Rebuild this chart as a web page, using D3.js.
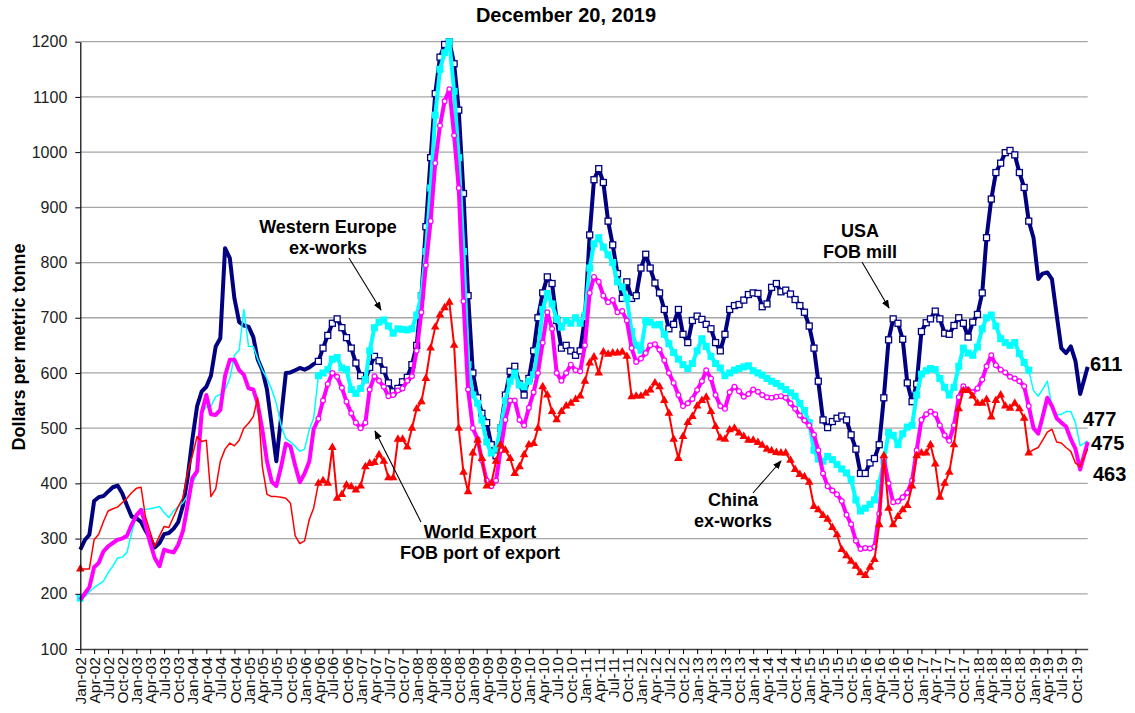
<!DOCTYPE html>
<html>
<head>
<meta charset="utf-8">
<script src="https://cdn.jsdelivr.net/npm/d3@7"></script>
<style>
  body { margin: 0; background: #fff; }
  text { font-family: Arial, "Liberation Sans", sans-serif; }
</style>
</head>
<body>
<div id="chart"></div>
<script>
// monthly prices, Jan-02 .. Dec-19 (last point is Dec 20, 2019)
var usa = [
  280, 298, 307, 368, 375, 377, 385, 393, 396, 382, 360, 340,
  337, 330, 315, 300, 284, 292, 308, 310, 318, 330, 360, 410,
  480, 540, 566, 575, 595, 648, 663, 826, 808, 735, 692, 686,
  684, 665, 625, 605, 570, 505, 440, 520, 600, 601, 605, 609,
  606, 610, 616, 621, 645, 668, 690, 698, 682, 664, 645, 618,
  595, 588, 610, 630, 622, 605, 582, 566, 572, 584, 592, 615,
  650, 740, 865, 990, 1106, 1172, 1195, 1200, 1160, 1076, 925, 740,
  600, 555, 527, 510, 470, 450, 500, 560, 603, 612, 580, 560,
  590, 640, 700, 745, 774, 762, 695, 645, 650, 640, 632, 640,
  700, 850, 950, 970, 945, 875, 832, 780, 735, 765, 735, 740,
  790, 815, 790, 763, 745, 715, 680, 688, 715, 670, 655, 695,
  703, 697, 688, 680, 655, 640, 670, 715, 722, 724, 732, 742,
  745, 744, 720, 725, 755, 762, 747, 750, 743, 733, 722, 710,
  685, 645, 585, 515, 501, 512, 518, 522, 515, 488, 462, 418,
  418, 437, 445, 470, 555, 660, 698, 690, 661, 582, 548, 580,
  675, 691, 698, 712, 698, 672, 670, 686, 700, 690, 665, 692,
  706, 745, 845, 915, 963, 980, 999, 1003, 995, 963, 936, 875,
  845, 770, 780, 782, 770, 705, 645, 636, 648, 622, 562, 611
];

var westEurope = [
  192, 195, 204, 211, 217, 223, 238, 250, 265, 266, 275, 310,
  340, 352, 353, 354, 356, 358, 347, 338, 350, 358, 365, 378,
  400, 418, 527, 539, 540, 557, 561, 570, 590, 632, 642, 715,
  648, 648, 626, 605, 590, 570, 545, 505, 481, 475, 467, 458,
  462, 498, 518, 595, 600, 606, 625, 628, 609, 606, 570, 563,
  572, 588, 640, 682, 692, 696, 685, 672, 680, 679, 678, 680,
  705, 740, 820, 935, 1067, 1150, 1180, 1200, 1110, 990, 820, 615,
  560, 545, 515, 475, 455, 462, 500, 550, 585, 600, 578, 575,
  585, 597, 640, 715, 744, 725, 698, 683, 695, 690, 700, 690,
  705, 790, 834, 845, 828, 814, 800, 765, 756, 735, 675, 650,
  641, 695, 692, 687, 688, 670, 653, 637, 625, 615, 608, 617,
  640, 662, 648, 630, 617, 609, 595, 600, 605, 608, 611, 613,
  604, 600, 596, 590, 585, 581, 576, 570, 564, 558, 545, 532,
  510, 460, 444, 440, 449, 443, 434, 426, 419, 407, 370, 350,
  355, 362, 370, 400, 440, 492, 487, 470, 490, 502, 505, 560,
  598, 604, 608, 606, 590, 574, 560, 574, 612, 645, 636, 632,
  647, 680, 700, 705, 685, 662, 655, 650, 655, 635, 619, 605,
  568, 558, 570, 585, 540, 524, 525, 530, 530, 510, 468, 477
];

var worldExport = [
  189, 201, 212, 248, 256, 277, 286, 292, 298, 300, 305, 325,
  342, 352, 325, 292, 265, 250, 280, 277, 275, 289, 314, 360,
  410, 422, 527, 560, 525, 524, 533, 595, 624, 624, 605, 597,
  572, 570, 545, 497, 440, 403, 395, 430, 472, 467, 432, 402,
  418, 440, 498, 517, 550, 580, 600, 593, 573, 548, 527, 510,
  500, 510, 570, 594, 586, 575, 558, 560, 568, 572, 586, 594,
  640, 710, 795, 875, 980, 1048, 1092, 1114, 1030, 935, 730, 570,
  500, 480, 442, 405, 395, 405, 460, 515, 550, 550, 515, 505,
  537, 565, 600, 655, 710, 680, 600, 586, 600, 615, 605, 603,
  650, 745, 774, 765, 740, 728, 732, 710, 712, 695, 645, 620,
  626, 636, 650, 652, 642, 623, 600, 582, 560, 540, 545, 553,
  569, 585, 605, 590, 560, 540, 535, 565, 575, 567, 557, 562,
  570, 566, 560, 556, 555, 557, 558, 555, 545, 535, 523, 514,
  505, 488, 460, 418, 395, 387, 380, 368, 343, 326, 296, 281,
  283, 282, 285, 345, 445, 400, 366, 367, 375, 383, 405, 460,
  515, 525, 530, 525, 505, 487, 477, 505, 556, 576, 569, 565,
  572, 588, 612, 632, 614, 606, 601, 593, 590, 585, 576, 540,
  500, 490, 520, 555, 540, 518, 510, 503, 480, 463, 425, 475
];

var china = [
  245, 245, 245, 298, 308, 331, 350, 354, 357, 365, 373, 383,
  391, 393, 340, 312, 286, 305, 322, 320, 340, 358, 374, 420,
  450, 485, 476, 478, 376, 390, 440, 462, 473, 468, 478, 500,
  509, 521, 555, 430, 380, 376, 376, 375, 373, 364, 305, 291,
  296, 335, 355, 400, 405, 400, 465, 373, 380, 397, 394, 388,
  395, 430, 436, 438, 452, 440, 410, 410, 480, 480, 466, 500,
  535, 548, 590, 645, 683, 705, 718, 728, 650, 500, 420, 385,
  455, 478, 445, 395, 400, 440, 470, 460, 445, 418, 430, 452,
  470, 472, 500, 575, 560, 530, 515, 530, 540, 545, 552, 558,
  585, 618, 629, 600, 638, 634, 636, 636, 638, 630, 557, 558,
  558, 563, 569, 582, 575, 550, 527, 480, 445, 485, 510, 521,
  540, 550, 556, 530, 503, 482, 480, 497, 500, 491, 485, 478,
  478, 474, 469, 462, 459, 456, 455, 455, 442, 425, 416, 412,
  402, 358, 352, 342, 335, 320, 307, 280, 269, 259, 250, 238,
  233, 248, 262, 325, 450, 355, 325, 340, 352, 360, 395, 450,
  455, 455, 470, 435, 375, 400, 420, 470, 535, 568, 568, 558,
  545, 545, 552, 520, 550, 560, 540, 536, 545, 535, 518, 455,
  461, 465, 478, 493, 498, 475, 473, 465, 458, 437, 430, 463
];

var endLabels = [
  {text: "611", x: 1090, y: 371},
  {text: "477", x: 1083, y: 426},
  {text: "475", x: 1091, y: 450},
  {text: "463", x: 1093, y: 481}
];

var notes = [
  {lines: ["Western Europe", "ex-works"], x: 328, y: 233, from: [349, 258], to: [381, 310]},
  {lines: ["USA", "FOB mill"], x: 860, y: 237, from: [862, 262], to: [889, 308]},
  {lines: ["World Export", "FOB port of export"], x: 480, y: 538, from: [421, 522], to: [375, 431]},
  {lines: ["China", "ex-works"], x: 733, y: 506, from: [753, 493], to: [781, 461]}
];

// marker period (index of Apr-06 .. Dec-18)
var markFrom = 51, markTo = 203;

var W = 1135, H = 713;
var plot = {left: 80.3, right: 1087.7, top: 41.7, bottom: 649};

var startDate = new Date(2002, 0, 1),
    endDate = new Date(2019, 11, 20);

var x = d3.scaleTime().domain([startDate, endDate]).range([plot.left, plot.right]);
var y = d3.scaleLinear().domain([100, 1200]).range([plot.bottom, plot.top]);

function dateOf(i) {
  return i == usa.length - 1 ? endDate : new Date(2002, i, 1);
}

var svg = d3.select("#chart").append("svg")
  .attr("width", W)
  .attr("height", H);

create_grid();
draw_series(usa, "#000080", 4, 4, "square_open", 4, true);
draw_series(westEurope, "#00ffff", 1.5, 4, "square", 1.5, false);
draw_series(worldExport, "#ff00ff", 4, 4, "circle", 4, true);
draw_series(china, "#ff0000", 1.5, 2, "triangle", 1.5, false);
create_axes();
create_labels();

function create_grid() {
  svg.append("g")
    .selectAll("line")
    .data(d3.range(200, 1201, 100))
    .join("line")
      .attr("x1", plot.left)
      .attr("x2", plot.right)
      .attr("y1", d => y(d))
      .attr("y2", d => y(d))
      .attr("stroke", "#a6a6a6")
      .attr("stroke-width", 1.3);
}

function draw_series(values, color, earlyWidth, mainWidth, mark, lateWidth, firstHidden) {
  var line = d3.line()
    .x(i => x(dateOf(i)))
    .y(i => y(values[i]));

  var g = svg.append("g").attr("fill", "none").attr("stroke-linejoin", "round");

  g.append("path")
    .attr("d", line(d3.range(0, markFrom + 1)))
    .attr("stroke", color)
    .attr("stroke-width", earlyWidth);
  g.append("path")
    .attr("d", line(d3.range(markTo, values.length)))
    .attr("stroke", color)
    .attr("stroke-width", lateWidth);
  g.append("path")
    .attr("d", line(d3.range(markFrom, markTo + 1)))
    .attr("stroke", color)
    .attr("stroke-width", mainWidth);

  var idx = d3.range(markFrom, markTo + 1);
  if (!firstHidden) idx.unshift(0);

  var m = svg.append("g");
  if (mark == "square_open") {
    m.selectAll("rect").data(idx).join("rect")
      .attr("x", i => x(dateOf(i)) - 3)
      .attr("y", i => y(values[i]) - 3)
      .attr("width", 6).attr("height", 6)
      .attr("fill", "#fff")
      .attr("stroke", color)
      .attr("stroke-width", 1.3);
  } else if (mark == "square") {
    m.selectAll("rect").data(idx).join("rect")
      .attr("x", i => x(dateOf(i)) - 3.5)
      .attr("y", i => y(values[i]) - 3.5)
      .attr("width", 7).attr("height", 7)
      .attr("fill", color);
  } else if (mark == "circle") {
    m.selectAll("circle").data(idx).join("circle")
      .attr("cx", i => x(dateOf(i)))
      .attr("cy", i => y(values[i]))
      .attr("r", 2.4)
      .attr("fill", "#fff")
      .attr("stroke", color)
      .attr("stroke-width", 1.2);
  } else {
    m.selectAll("path").data(idx).join("path")
      .attr("d", d3.symbol(d3.symbolTriangle, 32))
      .attr("transform", i => "translate(" + x(dateOf(i)) + "," + y(values[i]) + ")")
      .attr("fill", color);
  }
}

function create_axes() {
  var yAxis = svg.append("g")
    .attr("transform", "translate(" + plot.left + ",0)")
    .call(d3.axisLeft(y)
      .tickValues(d3.range(100, 1201, 100))
      .tickFormat(d3.format("d"))
      .tickSize(5)
      .tickSizeOuter(0)
      .tickPadding(8));
  yAxis.selectAll("text").attr("font-size", 16).attr("fill", "#222");
  yAxis.select(".domain").attr("stroke", "#000").attr("stroke-width", 1.2);

  var xAxis = svg.append("g")
    .attr("transform", "translate(0," + plot.bottom + ")")
    .call(d3.axisBottom(x)
      .ticks(d3.timeMonth.every(3))
      .tickFormat(d3.timeFormat("%b-%y"))
      .tickSize(5)
      .tickSizeOuter(0));
  xAxis.select(".domain").attr("stroke", "#444").attr("stroke-width", 1.3);
  xAxis.selectAll("text")
    .attr("font-size", 15.5)
    .attr("fill", "#111")
    .attr("transform", "rotate(-90)")
    .attr("text-anchor", "end")
    .attr("x", -8)
    .attr("y", 0)
    .attr("dy", "0.36em");
}

function create_labels() {
  svg.append("text")
    .attr("x", 566)
    .attr("y", 22)
    .attr("text-anchor", "middle")
    .attr("font-size", 20)
    .attr("font-weight", "bold")
    .text("December 20, 2019");

  svg.append("text")
    .attr("transform", "translate(25,347) rotate(-90)")
    .attr("text-anchor", "middle")
    .attr("font-size", 18)
    .attr("font-weight", "bold")
    .text("Dollars per metric tonne");

  svg.append("g")
    .selectAll("text")
    .data(endLabels)
    .join("text")
      .attr("x", d => d.x)
      .attr("y", d => d.y)
      .attr("font-size", 20)
      .attr("font-weight", "bold")
      .text(d => d.text);

  svg.append("defs").append("marker")
    .attr("id", "arrow")
    .attr("viewBox", "0 0 10 10")
    .attr("refX", 9).attr("refY", 5)
    .attr("markerWidth", 8).attr("markerHeight", 8)
    .attr("orient", "auto")
    .append("path")
      .attr("d", "M0,1L10,5L0,9Z")
      .attr("fill", "#000");

  var n = svg.append("g").selectAll("g").data(notes).join("g");
  n.append("line")
    .attr("x1", d => d.from[0]).attr("y1", d => d.from[1])
    .attr("x2", d => d.to[0]).attr("y2", d => d.to[1])
    .attr("stroke", "#000")
    .attr("stroke-width", 1.1)
    .attr("marker-end", "url(#arrow)");
  n.each(function(d) {
    var t = d3.select(this);
    d.lines.forEach(function(s, k) {
      t.append("text")
        .attr("x", d.x)
        .attr("y", d.y + k * 20.5)
        .attr("text-anchor", "middle")
        .attr("font-size", 18)
        .attr("font-weight", "bold")
        .text(s);
    });
  });
}
</script>
</body>
</html>
